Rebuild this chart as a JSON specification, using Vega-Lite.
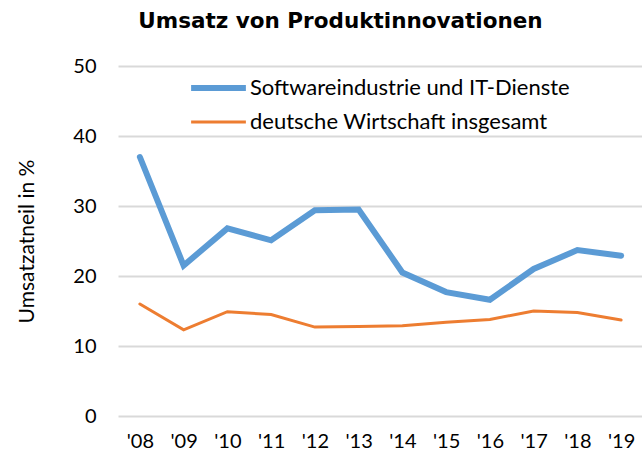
{
  "$schema": "https://vega.github.io/schema/vega-lite/v6.json",
  "width": 525,
  "height": 350,
  "autosize": {"type": "none"},
  "padding": {"left": 118, "top": 66, "right": 0, "bottom": 41},
  "background": "white",
  "title": {
    "text": "Umsatz von Produktinnovationen",
    "font": "DejaVu Sans",
    "fontSize": 21.5,
    "fontWeight": "bold",
    "color": "#000000",
    "anchor": "middle",
    "dx": -40,
    "offset": 24
  },
  "config": {
    "view": {"stroke": null},
    "font": "Lato"
  },
  "data": {
    "values": [
      {"year": "'08", "series": "Softwareindustrie und IT-Dienste", "value": 37.0},
      {"year": "'09", "series": "Softwareindustrie und IT-Dienste", "value": 21.5},
      {"year": "'10", "series": "Softwareindustrie und IT-Dienste", "value": 26.8},
      {"year": "'11", "series": "Softwareindustrie und IT-Dienste", "value": 25.1},
      {"year": "'12", "series": "Softwareindustrie und IT-Dienste", "value": 29.4},
      {"year": "'13", "series": "Softwareindustrie und IT-Dienste", "value": 29.5},
      {"year": "'14", "series": "Softwareindustrie und IT-Dienste", "value": 20.5},
      {"year": "'15", "series": "Softwareindustrie und IT-Dienste", "value": 17.7},
      {"year": "'16", "series": "Softwareindustrie und IT-Dienste", "value": 16.6},
      {"year": "'17", "series": "Softwareindustrie und IT-Dienste", "value": 21.0},
      {"year": "'18", "series": "Softwareindustrie und IT-Dienste", "value": 23.7},
      {"year": "'19", "series": "Softwareindustrie und IT-Dienste", "value": 22.9},
      {"year": "'08", "series": "deutsche Wirtschaft insgesamt", "value": 16.0},
      {"year": "'09", "series": "deutsche Wirtschaft insgesamt", "value": 12.3},
      {"year": "'10", "series": "deutsche Wirtschaft insgesamt", "value": 14.9},
      {"year": "'11", "series": "deutsche Wirtschaft insgesamt", "value": 14.5},
      {"year": "'12", "series": "deutsche Wirtschaft insgesamt", "value": 12.7},
      {"year": "'13", "series": "deutsche Wirtschaft insgesamt", "value": 12.8},
      {"year": "'14", "series": "deutsche Wirtschaft insgesamt", "value": 12.9},
      {"year": "'15", "series": "deutsche Wirtschaft insgesamt", "value": 13.4},
      {"year": "'16", "series": "deutsche Wirtschaft insgesamt", "value": 13.8},
      {"year": "'17", "series": "deutsche Wirtschaft insgesamt", "value": 15.0},
      {"year": "'18", "series": "deutsche Wirtschaft insgesamt", "value": 14.8},
      {"year": "'19", "series": "deutsche Wirtschaft insgesamt", "value": 13.7}
    ]
  },
  "mark": {"type": "line", "strokeJoin": "miter", "strokeCap": "round"},
  "encoding": {
    "x": {
      "field": "year",
      "type": "ordinal",
      "sort": null,
      "scale": {"type": "point", "padding": 0.5},
      "axis": {
        "title": null,
        "labelAngle": 0,
        "labelFont": "Lato",
        "labelFontSize": 20,
        "labelColor": "#000000",
        "labelPadding": 15,
        "domain": false,
        "ticks": false,
        "grid": false
      }
    },
    "y": {
      "field": "value",
      "type": "quantitative",
      "scale": {"domain": [0, 50]},
      "axis": {
        "title": "Umsatzatneil in %",
        "titleFont": "Lato",
        "titleFontSize": 21,
        "titleFontWeight": "normal",
        "titleColor": "#000000",
        "titlePadding": 35,
        "values": [0, 10, 20, 30, 40, 50],
        "labelFont": "Lato",
        "labelFontSize": 20,
        "labelColor": "#000000",
        "labelPadding": 22,
        "domain": false,
        "ticks": false,
        "grid": true,
        "gridColor": "#D9D9D9",
        "gridWidth": 2
      }
    },
    "color": {
      "field": "series",
      "type": "nominal",
      "scale": {
        "domain": ["Softwareindustrie und IT-Dienste", "deutsche Wirtschaft insgesamt"],
        "range": ["#5B9BD5", "#ED7D31"]
      },
      "legend": {
        "title": null,
        "orient": "none",
        "legendX": 70,
        "legendY": 10,
        "symbolType": "stroke",
        "symbolSize": 3000,
        "clipHeight": 24,
        "labelFont": "Lato",
        "labelFontSize": 22,
        "labelLimit": 500,
        "labelColor": "#000000",
        "rowPadding": 10,
        "labelOffset": 1
      }
    },
    "strokeWidth": {
      "field": "series",
      "type": "nominal",
      "scale": {
        "domain": ["Softwareindustrie und IT-Dienste", "deutsche Wirtschaft insgesamt"],
        "range": [6, 3]
      },
      "legend": null
    }
  }
}
